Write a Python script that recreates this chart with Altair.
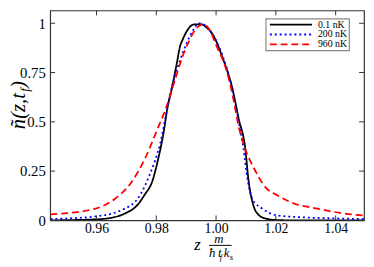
import altair as alt
import pandas as pd

series_names = ["0.1 nK", "200 nK", "960 nK"]
series_colors = ["#000000", "#0000ff", "#ff0000"]

black_z = [0.9446, 0.9597, 0.9656, 0.9695, 0.9738, 0.9761, 0.9787, 0.9803, 0.9826, 0.9836,
           0.9852, 0.9869, 0.9879, 0.9889, 0.9902, 0.9928, 0.9951, 0.9967, 0.9990, 1.0023,
           1.0056, 1.0075, 1.0098, 1.0108, 1.0125, 1.0141, 1.0164, 1.0197, 1.0262, 1.0495]
black_n = [0.0, 0.005, 0.015, 0.035, 0.08, 0.13, 0.20, 0.29, 0.46, 0.56,
           0.67, 0.80, 0.88, 0.92, 0.96, 0.995, 0.995, 0.98, 0.94, 0.82,
           0.66, 0.52, 0.36, 0.21, 0.075, 0.03, 0.01, 0.002, 0.0, 0.0]

blue_z = [0.9446, 0.9597, 0.9695, 0.9738, 0.9780, 0.9813, 0.9836, 0.9856, 0.9879, 0.9902,
          0.9925, 0.9941, 0.9957, 0.9990, 1.0023, 1.0049, 1.0072, 1.0092, 1.0105, 1.0121,
          1.0154, 1.0207, 1.0295, 1.0393, 1.0495]
blue_n = [0.007, 0.02, 0.06, 0.11, 0.24, 0.39, 0.56, 0.70, 0.81, 0.90,
          0.97, 1.0, 0.995, 0.94, 0.83, 0.70, 0.53, 0.36, 0.21, 0.11,
          0.06, 0.025, 0.015, 0.01, 0.007]

red_z = [0.9446, 0.9597, 0.9662, 0.9715, 0.9761, 0.9803, 0.9830, 0.9862, 0.9885, 0.9911,
         0.9934, 0.9957, 0.9977, 1.0000, 1.0033, 1.0056, 1.0075, 1.0098, 1.0125, 1.0164,
         1.0207, 1.0262, 1.0338, 1.0426, 1.0495]
red_n = [0.03, 0.06, 0.11, 0.19, 0.31, 0.46, 0.56, 0.71, 0.82, 0.915,
         0.975, 0.995, 0.97, 0.89, 0.77, 0.63, 0.48, 0.36, 0.27, 0.17,
         0.125, 0.085, 0.06, 0.035, 0.025]

x_ticks = [0.96, 0.98, 1.00, 1.02, 1.04]
y_ticks = [0, 0.25, 0.5, 0.75, 1]

W, H = 320, 214
FONT = "Liberation Serif"

rows = []
for name, zs, ns in zip(series_names, [black_z, blue_z, red_z], [black_n, blue_n, red_n]):
    for z, n in zip(zs, ns):
        rows.append({"series": name, "z": z, "n": n})
df = pd.DataFrame(rows)

xscale = alt.Scale(domain=[0.9445, 1.0495], nice=False, zero=False)
yscale = alt.Scale(domain=[0, 1.065], nice=False, zero=False)
xaxis = alt.Axis(values=x_ticks, format=".2f", labelPadding=1, labelFontSize=14)
dash_range = [[1, 0], [2, 3], [7, 4]]
color_scale = alt.Scale(domain=series_names, range=series_colors)
dash_scale = alt.Scale(domain=series_names, range=dash_range)

lines = alt.Chart(df).mark_line(clip=True, strokeWidth=1.8, interpolate="monotone").encode(
    x=alt.X("z:Q", scale=xscale, title=None, axis=xaxis),
    y=alt.Y("n:Q", scale=yscale, title=None,
            axis=alt.Axis(values=y_ticks, labelExpr="'' + datum.value", labelPadding=5)),
    color=alt.Color("series:N", scale=color_scale, legend=None),
    strokeDash=alt.StrokeDash("series:N", scale=dash_scale, legend=None),
)

xt = pd.DataFrame({"z": x_ticks})
yt = pd.DataFrame({"n": y_ticks})
tick_style = dict(color="#333333", strokeWidth=1)
xt_bottom = alt.Chart(xt).mark_rule(**tick_style).encode(
    x=alt.X("z:Q", scale=xscale, title=None, axis=xaxis), y=alt.value(H), y2=alt.value(H - 5))
xt_top = alt.Chart(xt).mark_rule(**tick_style).encode(
    x=alt.X("z:Q", scale=xscale, title=None, axis=xaxis), y=alt.value(0), y2=alt.value(5))
yt_left = alt.Chart(yt).mark_rule(**tick_style).encode(
    y=alt.Y("n:Q", scale=yscale, axis=None), x=alt.value(0), x2=alt.value(5))
yt_right = alt.Chart(yt).mark_rule(**tick_style).encode(
    y=alt.Y("n:Q", scale=yscale, axis=None), x=alt.value(W), x2=alt.value(W - 5))

# legend (drawn by hand, entries come from series_names)
leg = pd.DataFrame({"series": series_names})
leg_y = alt.Y("series:N",
              scale=alt.Scale(type="point", domain=series_names, range=[14.5, 34.5], padding=0),
              axis=None)
leg_box = alt.Chart(pd.DataFrame({"a": [0]})).mark_rect(
    fill="white", stroke="#888888", strokeWidth=1.2).encode(
    x=alt.value(220), x2=alt.value(305), y=alt.value(8.5), y2=alt.value(41))
leg_lines = alt.Chart(leg).mark_rule(strokeWidth=1.8).encode(
    x=alt.value(224), x2=alt.value(267), y=leg_y,
    color=alt.Color("series:N", scale=color_scale, legend=None),
    strokeDash=alt.StrokeDash("series:N", scale=dash_scale, legend=None),
)
leg_text = alt.Chart(leg).mark_text(font=FONT, fontSize=10, align="left", baseline="middle",
                                    color="black").encode(
    x=alt.value(273), y=leg_y, text="series:N")

one = pd.DataFrame({"a": [0]})


def txt(s, x, y, size, italic=True, angle=0, align="left"):
    kw = dict(text=s, font=FONT, fontSize=size, align=align, baseline="alphabetic", color="black")
    if italic:
        kw["fontStyle"] = "italic"
    if angle:
        kw["angle"] = angle
    return alt.Chart(one).mark_text(**kw).encode(x=alt.value(x), y=alt.value(y))


# y-axis title  ñ(z,t_f)
ytitle = [
    txt("ñ(z,t", -26, 121, 21, angle=270),
    txt("f", -22, 83, 13, angle=270),
    txt(")", -26, 79, 21, angle=270),
]
# x-axis title  z m/(ħ t_f k_s)
xtitle = [
    txt("z", 147, 244, 17),
    txt("m", 172, 237, 13, align="center"),
    alt.Chart(one).mark_rule(color="black", strokeWidth=1).encode(
        x=alt.value(162), x2=alt.value(185), y=alt.value(239.5)),
    txt("ħ", 162, 251, 13),
    txt("t", 171, 251, 13),
    txt("f", 173, 254, 9),
    txt("k", 177, 251, 13),
    txt("s", 183, 254, 9),
]

chart = alt.layer(
    lines, xt_bottom, xt_top, yt_left, yt_right, leg_box, leg_lines, leg_text, *ytitle, *xtitle
).resolve_scale(y="independent").properties(
    width=W, height=H,
    autosize=alt.AutoSizeParams(type="none"),
    padding={"left": 43, "top": 0, "right": 2, "bottom": 43},
).configure_view(
    stroke="#333333", strokeWidth=1.2
).configure_axis(
    grid=False, ticks=False, domain=False,
    labelFont=FONT, labelFontSize=15, labelColor="black",
)

chart.save("out.html", embed_options={"renderer": "svg", "actions": False})
